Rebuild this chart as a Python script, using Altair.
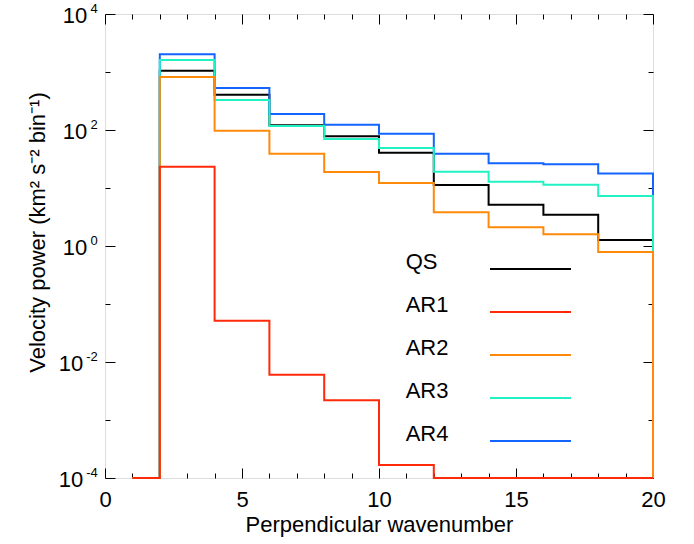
import altair as alt
import pandas as pd

# bin edges (perpendicular wavenumber); last bin closes at 20
edges = [1, 2, 4, 6, 8, 10, 12, 14, 16, 18, 20]
# power per bin (first bin 1-2 is below the plotted range -> axis floor)
qs  = [1e-4, 1052, 406, 121, 78, 40.6, 11.3, 5.15, 3.47, 1.27]
ar1 = [1e-4, 23.3, 0.0515, 0.0060, 0.0022, 1.67e-4, 1e-4, 1e-4, 1e-4, 1e-4]
ar2 = [1e-4, 820, 97, 39, 18.9, 12.2, 3.81, 2.10, 1.59, 0.789]
ar3 = [1e-4, 1610, 329, 117, 70, 49, 19.1, 12.8, 11.4, 7.28]
ar4 = [1e-4, 2020, 530, 189, 123, 86, 39, 26.7, 25.6, 17.7]
floor_value = 1e-4

names = ["QS", "AR1", "AR2", "AR3", "AR4"]
colors = ["#000000", "#ff2a0a", "#ff8a0a", "#20f2c4", "#1464ff"]
series = {"QS": qs, "AR1": ar1, "AR2": ar2, "AR3": ar3, "AR4": ar4}
draw_order = ["QS", "AR4", "AR3", "AR2", "AR1"]

x_ticks = list(range(0, 21))
x_label_values = [0, 5, 10, 15, 20]
y_ticks = [1e-4, 1e-3, 1e-2, 1e-1, 1, 1e1, 1e2, 1e3, 1e4]
y_label_values = [1e-4, 1e-2, 1, 1e2, 1e4]
y_exponents = ["-4", "-2", "0", "2", "4"]

rows = []
for name in draw_order:
    vals = series[name]
    for xe, v in zip(edges[:-1], vals):
        rows.append({"x": xe, "value": v, "series": name, "label": name})
    rows.append({"x": edges[-1], "value": floor_value, "series": name, "label": name})
df = pd.DataFrame(rows)

FONT = "Liberation Sans"
W, H = 548, 464

xs = alt.Scale(domain=[0, 20], nice=False, zero=False)
ys = alt.Scale(type="log", domain=[1e-4, 1e4], nice=False)

exp_expr = ""
for v, e in zip(y_label_values, y_exponents):
    exp_expr += f"abs(datum.value - {v}) < {v}*0.01 ? '{e}' : "
exp_expr += "''"

x_major = "datum.value % 5 == 0"
y_major = "abs(round(log(datum.value)/LN10)) % 2 == 0"

lines = alt.Chart(df).mark_line(interpolate="step-after", strokeWidth=2).encode(
    x=alt.X("x:Q", scale=xs, axis=alt.Axis(
        orient="bottom", values=x_label_values, ticks=False, tickSize=0, domain=False, grid=False,
        labelFont=FONT, labelFontSize=22, labelColor="#000", labelBaseline="alphabetic",
        labelPadding=28.5, labelFlush=False,
        title="Perpendicular wavenumber", titleFont=FONT, titleFontSize=22,
        titleFontWeight="normal", titleColor="#000", titleX=W / 2, titleY=53.5,
        titleBaseline="alphabetic", titleAlign="center")),
    y=alt.Y("value:Q", scale=ys, axis=alt.Axis(
        orient="left", values=y_label_values, ticks=False, tickSize=0, domain=False, grid=False,
        labelExpr="'10'", labelFont=FONT, labelFontSize=22, labelColor="#000",
        labelAlign="right", labelBaseline="alphabetic", labelOffset=8,
        labelPadding={"condition": {"test": "datum.value < 0.5", "value": 22.3}, "value": 18.3},
        title="Velocity power (km² s⁻² bin⁻¹)", titleFont=FONT, titleFontSize=22,
        titleFontWeight="normal", titleColor="#000", titleAngle=270, titleX=-60.7, titleY=218,
        titleBaseline="alphabetic", titleAlign="center")),
    color=alt.Color("series:N", scale=alt.Scale(domain=names, range=colors), legend=alt.Legend(
        orient="none", legendX=220.7, legendY=233.5, title=None, symbolType="stroke",
        symbolSize=6561, symbolStrokeWidth=2, symbolOffset=163.3,
        labelExpr="''", labelFontSize=1, labelOffset=0,
        clipHeight=43, rowPadding=0, padding=0)),
)

# invisible layer that carries the legend text (labels sit left of the line samples)
legend_text = alt.Chart(df).mark_point(opacity=0).encode(
    x=alt.X("x:Q", scale=xs, axis=None),
    y=alt.Y("value:Q", scale=ys, axis=None),
    shape=alt.Shape("label:N", sort=names, legend=alt.Legend(
        orient="none", legendX=278.7, legendY=233.5, title=None,
        symbolSize=4, symbolOpacity=0, symbolStrokeWidth=0,
        labelFont=FONT, labelFontSize=22, labelColor="#000",
        labelOffset=0, labelAlign="left", labelBaseline="alphabetic",
        clipHeight=43, rowPadding=0, padding=0)),
)

tick_common = dict(labels=False, domain=False, grid=False, ticks=True, tickColor="#000",
                   tickWidth=1, title=None)

inner_bl = alt.Chart(df).mark_line(opacity=0).encode(
    x=alt.X("x:Q", scale=xs, axis=alt.Axis(
        orient="top", offset=-H, values=x_ticks,
        tickSize={"condition": {"test": x_major, "value": 10}, "value": 5}, **tick_common)),
    y=alt.Y("value:Q", scale=ys, axis=alt.Axis(
        orient="right", offset=-W, values=y_ticks,
        tickSize={"condition": {"test": y_major, "value": 10}, "value": 5}, **tick_common)),
    detail="series:N",
)

inner_tr = alt.Chart(df).mark_line(opacity=0).encode(
    x=alt.X("x:Q", scale=xs, axis=alt.Axis(
        orient="bottom", offset=-H, values=x_ticks,
        tickSize={"condition": {"test": x_major, "value": 10}, "value": 5}, **tick_common)),
    y=alt.Y("value:Q", scale=ys, axis=alt.Axis(
        orient="left", offset=-W, values=y_ticks,
        tickSize={"condition": {"test": y_major, "value": 10}, "value": 5}, **tick_common)),
    detail="series:N",
)

exps = alt.Chart(df).mark_line(opacity=0).encode(
    x=alt.X("x:Q", scale=xs, axis=None),
    y=alt.Y("value:Q", scale=ys, axis=alt.Axis(
        orient="left", values=y_label_values, ticks=False, tickSize=0, domain=False, grid=False,
        labelExpr=exp_expr, labelFont=FONT, labelFontSize=13, labelColor="#000",
        labelAlign="right", labelBaseline="alphabetic", labelOffset=-2, labelPadding=7.7,
        title=None)),
    detail="series:N",
)

chart = alt.layer(inner_bl, inner_tr, exps, legend_text, lines).resolve_axis(
    x="independent", y="independent"
).properties(
    width=W, height=H,
    autosize=alt.AutoSizeParams(type="none"),
    padding={"left": 105, "top": 14, "right": 41, "bottom": 66},
).configure_view(stroke="#000", strokeWidth=1.2).configure(background="white")

chart.save("out.html", embed_options={"renderer": "svg", "actions": False})
